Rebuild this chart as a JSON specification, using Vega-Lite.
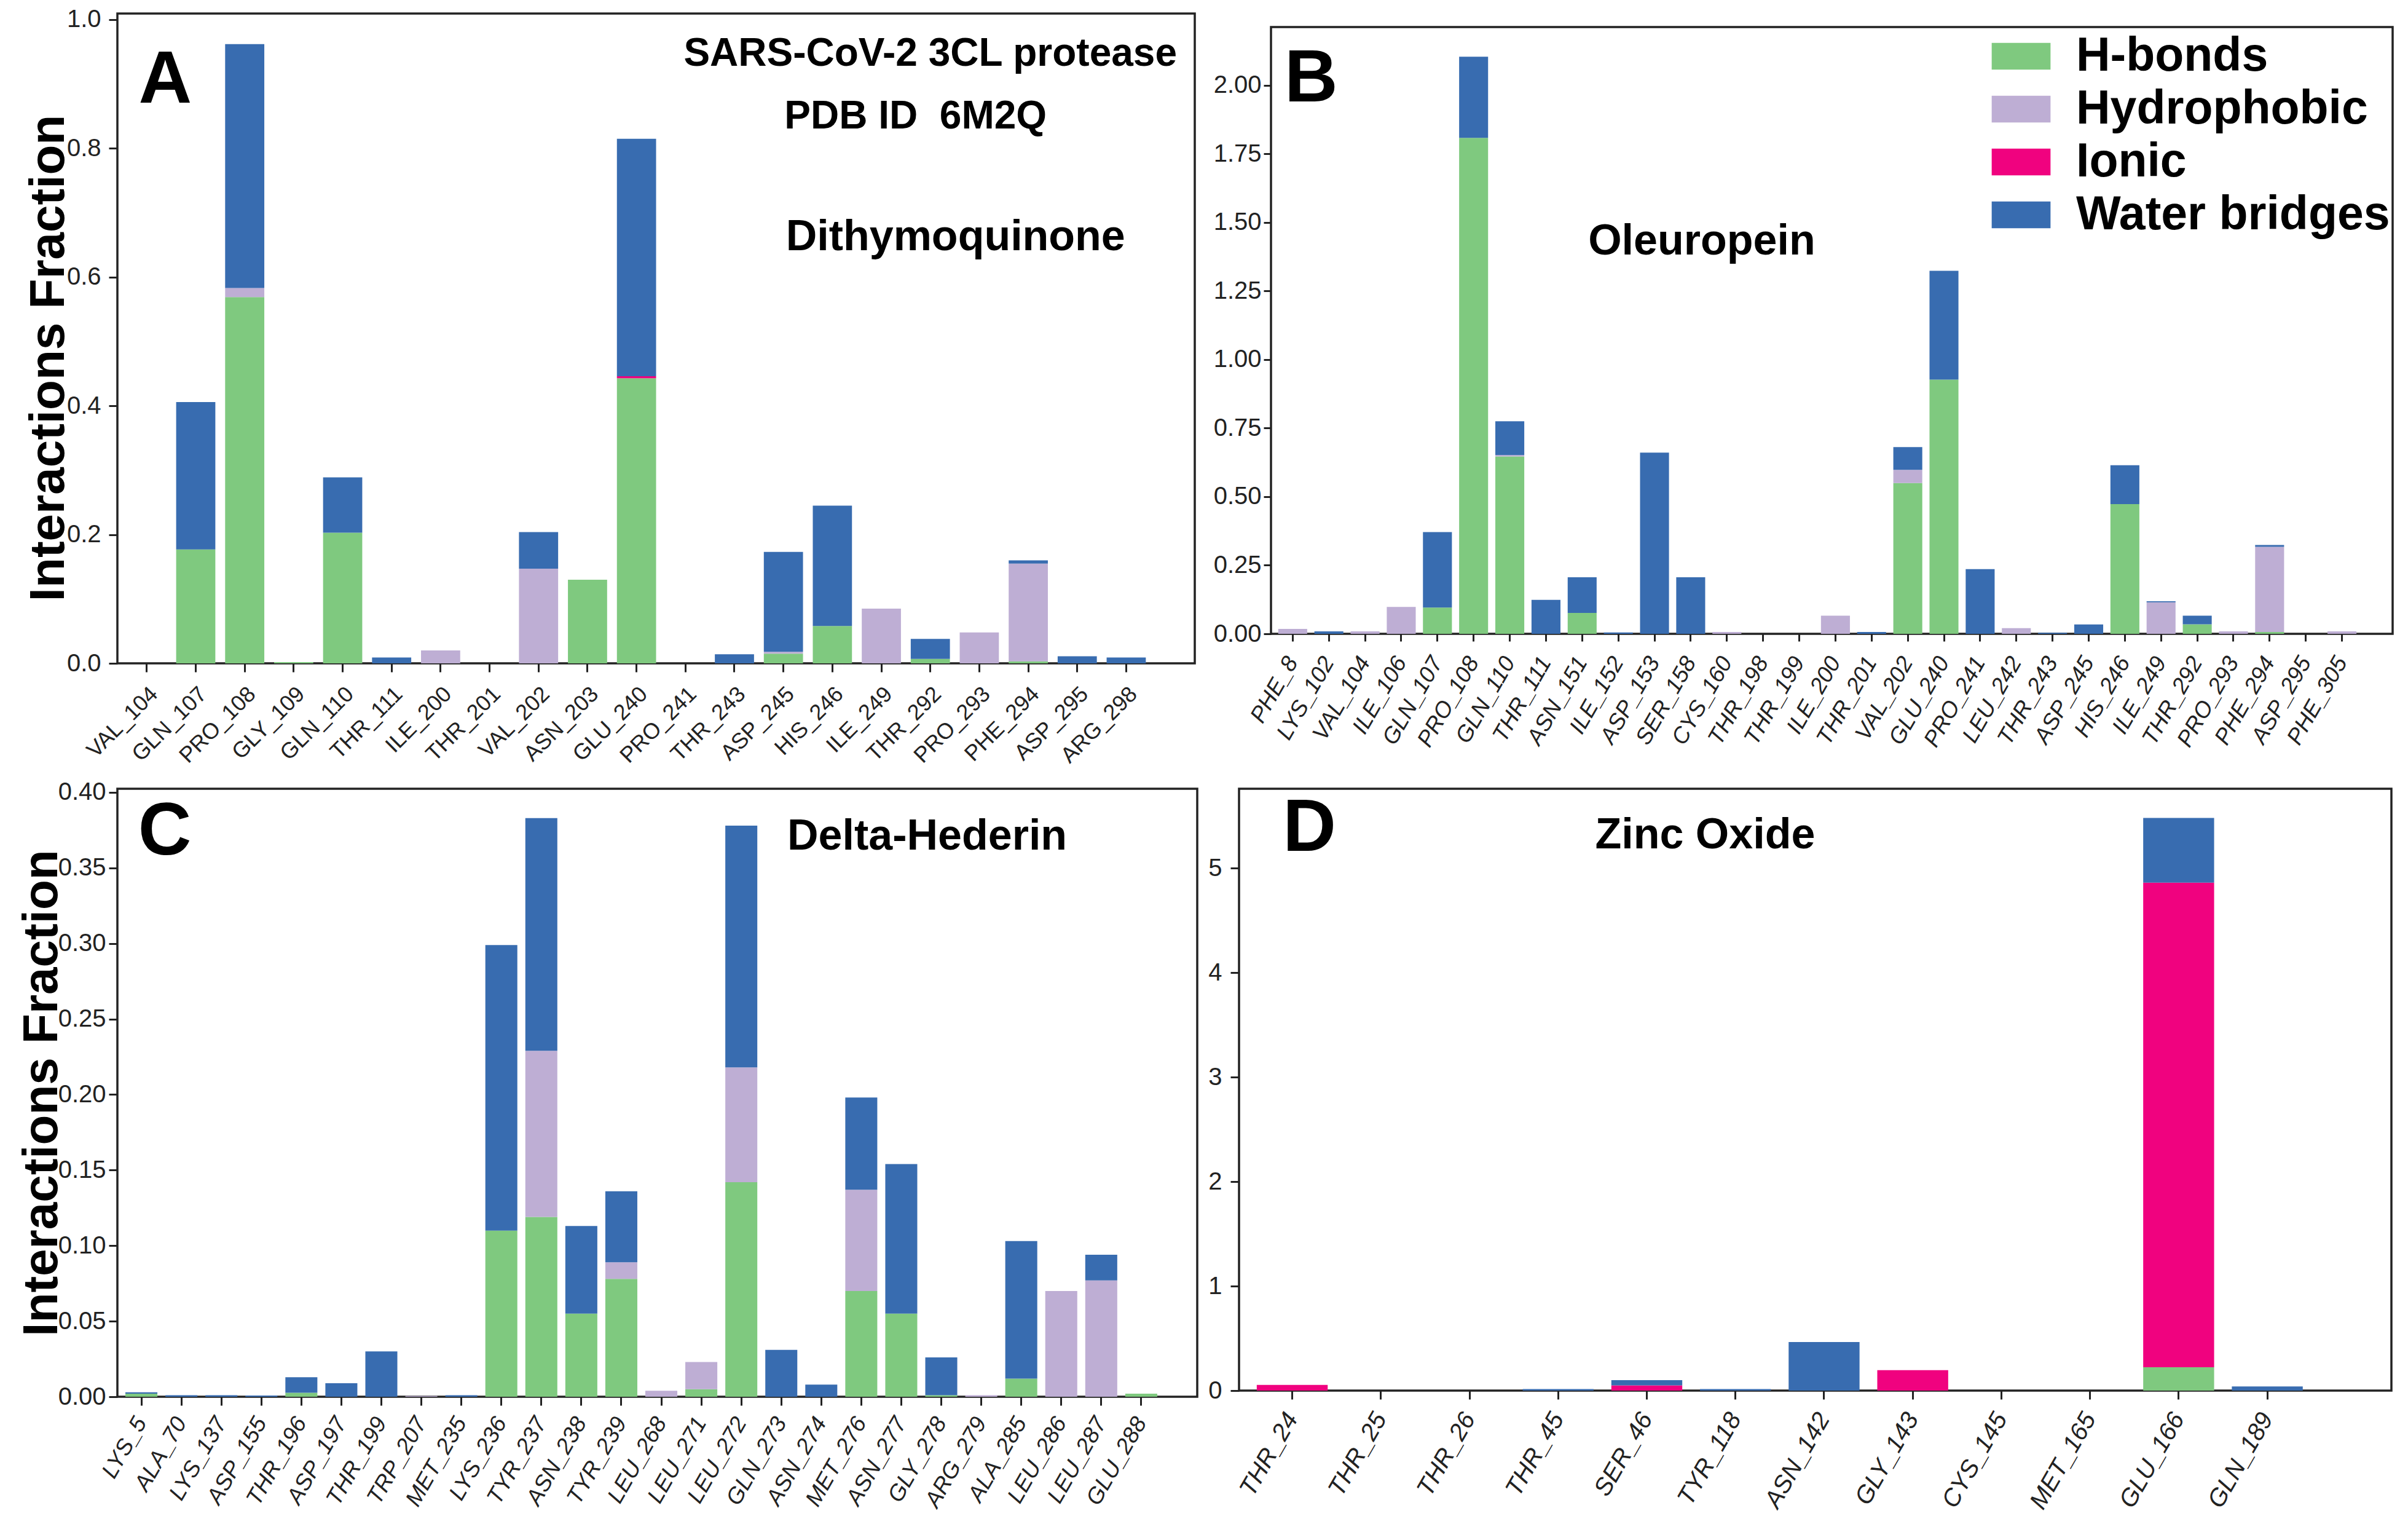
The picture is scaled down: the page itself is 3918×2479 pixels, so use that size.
{
  "$schema": "https://vega.github.io/schema/vega-lite/v6.json",
  "background": "white",
  "padding": {"left": 26, "top": 10, "right": 5, "bottom": 5},
  "config": {
    "view": {"stroke": "#222222", "strokeWidth": 3.5},
    "axis": {
      "grid": false, "domain": false, "tickColor": "#222222", "tickWidth": 3, "tickSize": 14,
      "labelColor": "#222222", "labelFont": "Liberation Sans",
      "labelFontSize": 40, "labelOverlap": false, "labelBound": false, "labelLimit": 1000,
      "titleFont": "Liberation Sans", "titleFontWeight": "bold", "titleFontSize": 80, "titleColor": "black"
    },
    "text": {"font": "Liberation Sans", "fontWeight": "bold", "color": "black"}
  },
  "datasets": {
    "A": [
      {"res": "GLN_107", "type": "H-bonds", "val": 0.177}, {"res": "GLN_107", "type": "Water bridges", "val": 0.229},
      {"res": "PRO_108", "type": "H-bonds", "val": 0.569}, {"res": "PRO_108", "type": "Hydrophobic", "val": 0.014}, {"res": "PRO_108", "type": "Water bridges", "val": 0.379},
      {"res": "GLY_109", "type": "H-bonds", "val": 0.002},
      {"res": "GLN_110", "type": "H-bonds", "val": 0.203}, {"res": "GLN_110", "type": "Water bridges", "val": 0.086},
      {"res": "THR_111", "type": "Water bridges", "val": 0.009},
      {"res": "ILE_200", "type": "Hydrophobic", "val": 0.020},
      {"res": "VAL_202", "type": "Hydrophobic", "val": 0.147}, {"res": "VAL_202", "type": "Water bridges", "val": 0.057},
      {"res": "ASN_203", "type": "H-bonds", "val": 0.130},
      {"res": "GLU_240", "type": "H-bonds", "val": 0.443}, {"res": "GLU_240", "type": "Ionic", "val": 0.003}, {"res": "GLU_240", "type": "Water bridges", "val": 0.369},
      {"res": "THR_243", "type": "Water bridges", "val": 0.014},
      {"res": "ASP_245", "type": "H-bonds", "val": 0.015}, {"res": "ASP_245", "type": "Hydrophobic", "val": 0.003}, {"res": "ASP_245", "type": "Water bridges", "val": 0.155},
      {"res": "HIS_246", "type": "H-bonds", "val": 0.058}, {"res": "HIS_246", "type": "Water bridges", "val": 0.187},
      {"res": "ILE_249", "type": "Hydrophobic", "val": 0.085},
      {"res": "THR_292", "type": "H-bonds", "val": 0.007}, {"res": "THR_292", "type": "Water bridges", "val": 0.031},
      {"res": "PRO_293", "type": "Hydrophobic", "val": 0.048},
      {"res": "PHE_294", "type": "H-bonds", "val": 0.003}, {"res": "PHE_294", "type": "Hydrophobic", "val": 0.152}, {"res": "PHE_294", "type": "Water bridges", "val": 0.005},
      {"res": "ASP_295", "type": "Water bridges", "val": 0.011},
      {"res": "ARG_298", "type": "Water bridges", "val": 0.009}
    ],
    "B": [
      {"res": "PHE_8", "type": "Hydrophobic", "val": 0.018},
      {"res": "LYS_102", "type": "Water bridges", "val": 0.009},
      {"res": "VAL_104", "type": "Hydrophobic", "val": 0.009},
      {"res": "ILE_106", "type": "Hydrophobic", "val": 0.098},
      {"res": "GLN_107", "type": "H-bonds", "val": 0.096}, {"res": "GLN_107", "type": "Water bridges", "val": 0.275},
      {"res": "PRO_108", "type": "H-bonds", "val": 1.809}, {"res": "PRO_108", "type": "Water bridges", "val": 0.296},
      {"res": "GLN_110", "type": "H-bonds", "val": 0.647}, {"res": "GLN_110", "type": "Hydrophobic", "val": 0.005}, {"res": "GLN_110", "type": "Water bridges", "val": 0.123},
      {"res": "THR_111", "type": "Water bridges", "val": 0.124},
      {"res": "ASN_151", "type": "H-bonds", "val": 0.076}, {"res": "ASN_151", "type": "Water bridges", "val": 0.130},
      {"res": "ILE_152", "type": "Water bridges", "val": 0.005},
      {"res": "ASP_153", "type": "Water bridges", "val": 0.661},
      {"res": "SER_158", "type": "Water bridges", "val": 0.206},
      {"res": "CYS_160", "type": "Hydrophobic", "val": 0.007},
      {"res": "ILE_200", "type": "Hydrophobic", "val": 0.066},
      {"res": "THR_201", "type": "Water bridges", "val": 0.007},
      {"res": "VAL_202", "type": "H-bonds", "val": 0.550}, {"res": "VAL_202", "type": "Hydrophobic", "val": 0.048}, {"res": "VAL_202", "type": "Water bridges", "val": 0.083},
      {"res": "GLU_240", "type": "H-bonds", "val": 0.927}, {"res": "GLU_240", "type": "Water bridges", "val": 0.397},
      {"res": "PRO_241", "type": "Water bridges", "val": 0.236},
      {"res": "LEU_242", "type": "Hydrophobic", "val": 0.021},
      {"res": "THR_243", "type": "Water bridges", "val": 0.004},
      {"res": "ASP_245", "type": "Water bridges", "val": 0.034},
      {"res": "HIS_246", "type": "H-bonds", "val": 0.473}, {"res": "HIS_246", "type": "Water bridges", "val": 0.142},
      {"res": "ILE_249", "type": "Hydrophobic", "val": 0.115}, {"res": "ILE_249", "type": "Water bridges", "val": 0.004},
      {"res": "THR_292", "type": "H-bonds", "val": 0.035}, {"res": "THR_292", "type": "Water bridges", "val": 0.031},
      {"res": "PRO_293", "type": "Hydrophobic", "val": 0.009},
      {"res": "PHE_294", "type": "H-bonds", "val": 0.007}, {"res": "PHE_294", "type": "Hydrophobic", "val": 0.310}, {"res": "PHE_294", "type": "Water bridges", "val": 0.007},
      {"res": "PHE_305", "type": "Hydrophobic", "val": 0.009}
    ],
    "C": [
      {"res": "LYS_5", "type": "H-bonds", "val": 0.002}, {"res": "LYS_5", "type": "Water bridges", "val": 0.001},
      {"res": "ALA_70", "type": "Water bridges", "val": 0.001},
      {"res": "LYS_137", "type": "Water bridges", "val": 0.001},
      {"res": "ASP_155", "type": "Water bridges", "val": 0.0008},
      {"res": "THR_196", "type": "H-bonds", "val": 0.0026}, {"res": "THR_196", "type": "Water bridges", "val": 0.0103},
      {"res": "ASP_197", "type": "Water bridges", "val": 0.009},
      {"res": "THR_199", "type": "Water bridges", "val": 0.030},
      {"res": "TRP_207", "type": "Hydrophobic", "val": 0.0005},
      {"res": "MET_235", "type": "Water bridges", "val": 0.001},
      {"res": "LYS_236", "type": "H-bonds", "val": 0.110}, {"res": "LYS_236", "type": "Water bridges", "val": 0.189},
      {"res": "TYR_237", "type": "H-bonds", "val": 0.119}, {"res": "TYR_237", "type": "Hydrophobic", "val": 0.110}, {"res": "TYR_237", "type": "Water bridges", "val": 0.154},
      {"res": "ASN_238", "type": "H-bonds", "val": 0.055}, {"res": "ASN_238", "type": "Water bridges", "val": 0.058},
      {"res": "TYR_239", "type": "H-bonds", "val": 0.078}, {"res": "TYR_239", "type": "Hydrophobic", "val": 0.011}, {"res": "TYR_239", "type": "Water bridges", "val": 0.047},
      {"res": "LEU_268", "type": "Hydrophobic", "val": 0.004},
      {"res": "LEU_271", "type": "H-bonds", "val": 0.005}, {"res": "LEU_271", "type": "Hydrophobic", "val": 0.018},
      {"res": "LEU_272", "type": "H-bonds", "val": 0.142}, {"res": "LEU_272", "type": "Hydrophobic", "val": 0.076}, {"res": "LEU_272", "type": "Water bridges", "val": 0.160},
      {"res": "GLN_273", "type": "Water bridges", "val": 0.031},
      {"res": "ASN_274", "type": "Water bridges", "val": 0.008},
      {"res": "MET_276", "type": "H-bonds", "val": 0.070}, {"res": "MET_276", "type": "Hydrophobic", "val": 0.067}, {"res": "MET_276", "type": "Water bridges", "val": 0.061},
      {"res": "ASN_277", "type": "H-bonds", "val": 0.055}, {"res": "ASN_277", "type": "Water bridges", "val": 0.099},
      {"res": "GLY_278", "type": "H-bonds", "val": 0.001}, {"res": "GLY_278", "type": "Water bridges", "val": 0.025},
      {"res": "ARG_279", "type": "Hydrophobic", "val": 0.001},
      {"res": "ALA_285", "type": "H-bonds", "val": 0.012}, {"res": "ALA_285", "type": "Water bridges", "val": 0.091},
      {"res": "LEU_286", "type": "Hydrophobic", "val": 0.070},
      {"res": "LEU_287", "type": "Hydrophobic", "val": 0.077}, {"res": "LEU_287", "type": "Water bridges", "val": 0.017},
      {"res": "GLU_288", "type": "H-bonds", "val": 0.002}
    ],
    "D": [
      {"res": "THR_24", "type": "Ionic", "val": 0.055},
      {"res": "THR_45", "type": "Water bridges", "val": 0.015},
      {"res": "SER_46", "type": "Ionic", "val": 0.05}, {"res": "SER_46", "type": "Water bridges", "val": 0.05},
      {"res": "TYR_118", "type": "Water bridges", "val": 0.015},
      {"res": "ASN_142", "type": "Water bridges", "val": 0.465},
      {"res": "GLY_143", "type": "Ionic", "val": 0.195},
      {"res": "GLU_166", "type": "H-bonds", "val": 0.223}, {"res": "GLU_166", "type": "Ionic", "val": 4.637}, {"res": "GLU_166", "type": "Water bridges", "val": 0.62},
      {"res": "GLN_189", "type": "Water bridges", "val": 0.04}
    ]
  },
  "resolve": {"scale": {"color": "independent"}, "legend": {"color": "independent"}},
  "spacing": 17,
  "vconcat": [
    {
      "spacing": 26,
      "resolve": {"scale": {"color": "independent"}, "legend": {"color": "independent"}},
      "hconcat": [
        {
          "width": 1753, "height": 1057,
          "layer": [
            {
              "data": {"name": "A"},
              "mark": {"type": "bar"},
              "encoding": {
                "x": {"field": "res", "type": "nominal",
                  "scale": {"domain": ["VAL_104","GLN_107","PRO_108","GLY_109","GLN_110","THR_111","ILE_200","THR_201","VAL_202","ASN_203","GLU_240","PRO_241","THR_243","ASP_245","HIS_246","ILE_249","THR_292","PRO_293","PHE_294","ASP_295","ARG_298"], "paddingInner": 0.2, "paddingOuter": 0.6, "align": 0.1667},
                  "axis": {"title": null, "labelAngle": -45, "labelPadding": 18, "labelFontSize": 36}},
                "y": {"field": "val", "type": "quantitative", "stack": "zero",
                  "scale": {"domain": [0, 1.0095], "nice": false},
                  "axis": {"values": [0, 0.2, 0.4, 0.6, 0.8, 1.0], "format": ".1f", "title": "Interactions Fraction", "titleBaseline": "alphabetic", "titlePadding": 5, "titleY": 560, "labelPadding": 13}},
                "color": {"field": "type", "type": "nominal",
                  "scale": {"domain": ["H-bonds", "Hydrophobic", "Ionic", "Water bridges"], "range": ["#7fc97f", "#beaed4", "#f0027f", "#386cb0"]},
                  "legend": null},
                "order": {"field": "type", "type": "nominal", "sort": "ascending"}
              }
            },
            {"data": {"values": [{}]}, "mark": {"type": "text", "text": "A", "fontSize": 120, "align": "center", "baseline": "alphabetic", "dx": 30},
             "encoding": {"x": {"datum": "VAL_104", "type": "nominal"}, "y": {"datum": 0.871, "type": "quantitative"}}},
            {"data": {"values": [{}]}, "mark": {"type": "text", "text": "SARS-CoV-2 3CL protease", "fontSize": 64, "align": "center", "baseline": "alphabetic", "dx": 0},
             "encoding": {"x": {"datum": "THR_292", "type": "nominal"}, "y": {"datum": 0.928, "type": "quantitative"}}},
            {"data": {"values": [{}]}, "mark": {"type": "text", "text": "PDB ID\u00a0 6M2Q", "fontSize": 64, "align": "center", "baseline": "alphabetic", "dx": -24},
             "encoding": {"x": {"datum": "THR_292", "type": "nominal"}, "y": {"datum": 0.831, "type": "quantitative"}}},
            {"data": {"values": [{}]}, "mark": {"type": "text", "text": "Dithymoquinone", "fontSize": 70, "align": "center", "baseline": "alphabetic", "dx": 41},
             "encoding": {"x": {"datum": "THR_292", "type": "nominal"}, "y": {"datum": 0.642, "type": "quantitative"}}}
          ]
        },
        {
          "spacing": 14,
          "resolve": {"scale": {"color": "independent"}, "legend": {"color": "independent"}},
          "vconcat": [
            {"width": 1, "height": 1, "view": {"stroke": null}, "data": {"values": [{}]}, "mark": {"type": "text"}, "encoding": {"text": {"value": ""}}},
            {
              "width": 1825, "height": 987,
              "layer": [
                {
                  "data": {"name": "B"},
                  "mark": {"type": "bar"},
                  "encoding": {
                    "x": {"field": "res", "type": "nominal",
                      "scale": {"domain": ["PHE_8","LYS_102","VAL_104","ILE_106","GLN_107","PRO_108","GLN_110","THR_111","ASN_151","ILE_152","ASP_153","SER_158","CYS_160","THR_198","THR_199","ILE_200","THR_201","VAL_202","GLU_240","PRO_241","LEU_242","THR_243","ASP_245","HIS_246","ILE_249","THR_292","PRO_293","PHE_294","ASP_295","PHE_305"], "paddingInner": 0.2, "paddingOuter": 0.6, "align": 0.1667},
                      "axis": {"title": null, "labelAngle": -60, "labelPadding": 28, "labelFontSize": 37, "labelFontStyle": "italic", "tickSize": 12}},
                    "y": {"field": "val", "type": "quantitative", "stack": "zero",
                      "scale": {"domain": [0, 2.213], "nice": false},
                      "axis": {"values": [0, 0.25, 0.5, 0.75, 1.0, 1.25, 1.5, 1.75, 2.0], "format": ".2f", "title": null, "labelPadding": 4, "tickSize": 12}},
                    "color": {"field": "type", "type": "nominal",
                      "scale": {"domain": ["H-bonds", "Hydrophobic", "Ionic", "Water bridges"], "range": ["#7fc97f", "#beaed4", "#f0027f", "#386cb0"]},
                      "legend": {"title": null, "orient": "top-right", "offset": 4, "padding": 0,
                        "symbolType": "M-1.1,-0.5H1.1V0.5H-1.1Z", "symbolSize": 7569, "symbolStrokeWidth": 0, "symbolOpacity": 1,
                        "labelFont": "Liberation Sans", "labelFontWeight": "bold", "labelFontSize": 77, "labelColor": "black",
                        "labelOffset": 46, "rowPadding": 4, "labelLimit": 1000}},
                    "order": {"field": "type", "type": "nominal", "sort": "ascending"}
                  }
                },
                {"data": {"values": [{}]}, "mark": {"type": "text", "text": "B", "fontSize": 120, "align": "center", "baseline": "alphabetic", "dx": 30},
                 "encoding": {"x": {"datum": "PHE_8", "type": "nominal"}, "y": {"datum": 1.942, "type": "quantitative"}}},
                {"data": {"values": [{}]}, "mark": {"type": "text", "text": "Oleuropein", "fontSize": 70, "align": "center", "baseline": "alphabetic", "dx": 18},
                 "encoding": {"x": {"datum": "SER_158", "type": "nominal"}, "y": {"datum": 1.383, "type": "quantitative"}}}
              ]
            }
          ]
        }
      ]
    },
    {
      "spacing": 14,
      "resolve": {"scale": {"color": "independent"}, "legend": {"color": "independent"}},
      "hconcat": [
        {
          "width": 1757, "height": 989,
          "layer": [
            {
              "data": {"name": "C"},
              "mark": {"type": "bar"},
              "encoding": {
                "x": {"field": "res", "type": "nominal",
                  "scale": {"domain": ["LYS_5","ALA_70","LYS_137","ASP_155","THR_196","ASP_197","THR_199","TRP_207","MET_235","LYS_236","TYR_237","ASN_238","TYR_239","LEU_268","LEU_271","LEU_272","GLN_273","ASN_274","MET_276","ASN_277","GLY_278","ARG_279","ALA_285","LEU_286","LEU_287","GLU_288"], "paddingInner": 0.2, "paddingOuter": 0.6, "align": 0.1667},
                  "axis": {"title": null, "labelAngle": -60, "labelPadding": 22, "labelFontSize": 37, "labelFontStyle": "italic"}},
                "y": {"field": "val", "type": "quantitative", "stack": "zero",
                  "scale": {"domain": [0, 0.4024], "nice": false},
                  "axis": {"values": [0, 0.05, 0.1, 0.15, 0.2, 0.25, 0.3, 0.35, 0.4], "format": ".2f", "title": "Interactions Fraction", "titleBaseline": "alphabetic", "titlePadding": 2, "labelPadding": 5}},
                "color": {"field": "type", "type": "nominal",
                  "scale": {"domain": ["H-bonds", "Hydrophobic", "Ionic", "Water bridges"], "range": ["#7fc97f", "#beaed4", "#f0027f", "#386cb0"]},
                  "legend": null},
                "order": {"field": "type", "type": "nominal", "sort": "ascending"}
              }
            },
            {"data": {"values": [{}]}, "mark": {"type": "text", "text": "C", "fontSize": 120, "align": "center", "baseline": "alphabetic", "dx": 38},
             "encoding": {"x": {"datum": "LYS_5", "type": "nominal"}, "y": {"datum": 0.359, "type": "quantitative"}}},
            {"data": {"values": [{}]}, "mark": {"type": "text", "text": "Delta-Hederin", "fontSize": 70, "align": "center", "baseline": "alphabetic", "dx": -23},
             "encoding": {"x": {"datum": "GLY_278", "type": "nominal"}, "y": {"datum": 0.362, "type": "quantitative"}}}
          ]
        },
        {
          "width": 1875, "height": 979,
          "layer": [
            {
              "data": {"name": "D"},
              "mark": {"type": "bar"},
              "encoding": {
                "x": {"field": "res", "type": "nominal",
                  "scale": {"domain": ["THR_24","THR_25","THR_26","THR_45","SER_46","TYR_118","ASN_142","GLY_143","CYS_145","MET_165","GLU_166","GLN_189"], "paddingInner": 0.2, "paddingOuter": 0.6, "align": 0.1667},
                  "axis": {"title": null, "labelAngle": -60, "labelPadding": 25, "labelFontSize": 40, "labelFontStyle": "italic"}},
                "y": {"field": "val", "type": "quantitative", "stack": "zero",
                  "scale": {"domain": [0, 5.759], "nice": false},
                  "axis": {"values": [0, 1, 2, 3, 4, 5], "format": "d", "title": null, "labelPadding": 14}},
                "color": {"field": "type", "type": "nominal",
                  "scale": {"domain": ["H-bonds", "Hydrophobic", "Ionic", "Water bridges"], "range": ["#7fc97f", "#beaed4", "#f0027f", "#386cb0"]},
                  "legend": null},
                "order": {"field": "type", "type": "nominal", "sort": "ascending"}
              }
            },
            {"data": {"values": [{}]}, "mark": {"type": "text", "text": "D", "fontSize": 120, "align": "center", "baseline": "alphabetic", "dx": 28},
             "encoding": {"x": {"datum": "THR_24", "type": "nominal"}, "y": {"datum": 5.165, "type": "quantitative"}}},
            {"data": {"values": [{}]}, "mark": {"type": "text", "text": "Zinc Oxide", "fontSize": 70, "align": "center", "baseline": "alphabetic", "dx": 95},
             "encoding": {"x": {"datum": "SER_46", "type": "nominal"}, "y": {"datum": 5.19, "type": "quantitative"}}}
          ]
        }
      ]
    }
  ]
}
